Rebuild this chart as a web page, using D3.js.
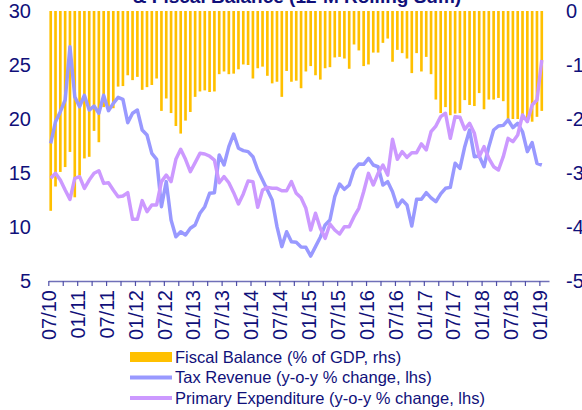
<!DOCTYPE html>
<html lang="en">
  <head>
    <meta charset="UTF-8">
    <title>Tax Revenue, Primary Expenditure & Fiscal Balance</title>
    <script src="https://d3js.org/d3.v7.min.js"></script>
    <style>
      * {
        margin: 0;
        padding: 0;
      }
      body {
        background: #fff;
      }
      body > svg {
        display: block;
        font-family: Arial, "Liberation Sans", sans-serif;
      }
    </style>
  </head>
  <body>
    <script>
      // monthly, 07/2010 .. 01/2019
      var months = d3.timeMonth.range(new Date(2010, 6, 1), new Date(2019, 1, 2));

      var tickLabels = ["07/10", "01/11", "07/11", "01/12", "07/12", "01/13", "07/13", "01/14", "07/14",
        "01/15", "07/15", "01/16", "07/16", "01/17", "07/17", "01/18", "07/18", "01/19"];

      var leftTicks = [5, 10, 15, 20, 25, 30];
      var rightTicks = [-5, -4, -3, -2, -1, 0];

      // fiscal balance, % of GDP (rhs)
      var fiscalBalance = [
        -3.70, -3.25, -2.98, -2.89, -2.61, -3.45, -3.05, -2.73, -2.70, -2.22,
        -2.43, -1.78, -1.83, -1.80, -1.40, -1.39, -1.19, -1.28, -1.22, -1.46,
        -1.41, -1.37, -1.25, -1.85, -1.62, -1.89, -2.13, -2.27, -2.03, -1.87,
        -1.59, -1.49, -1.47, -1.50, -1.49, -1.17, -1.12, -1.17, -1.16, -1.08,
        -0.99, -1.00, -1.25, -1.06, -1.03, -1.20, -1.34, -1.31, -1.59, -1.11,
        -1.31, -1.29, -1.43, -1.12, -1.02, -1.19, -1.27, -1.06, -1.04, -0.86,
        -0.85, -0.88, -1.07, -0.62, -0.73, -1.02, -0.99, -0.77, -0.77, -0.59,
        -0.51, -0.94, -0.72, -0.78, -0.88, -1.15, -0.78, -1.12, -0.85, -1.17,
        -1.64, -1.89, -1.78, -1.93, -1.90, -1.89, -1.65, -1.74, -1.76, -1.52,
        -1.82, -1.64, -1.64, -1.61, -1.67, -2.01, -2.00, -2.00, -2.02, -2.05,
        -2.05, -1.96, -1.85
      ];

      // tax revenue, y-o-y % (lhs)
      var taxRevenue = [
        17.75, 19.75, 20.68, 21.76, 26.7, 22.07, 21.14, 22.2, 20.83, 21.2,
        20.53, 22.2, 20.77, 21.45, 22.0, 21.82, 19.66, 20.53, 20.83, 18.98,
        18.52, 16.82, 16.27, 11.88, 14.2, 10.65, 9.1, 9.56, 9.26, 9.88,
        10.19, 11.27, 11.88, 13.12, 13.18, 16.67, 15.74, 17.44, 18.61, 17.29,
        17.07, 16.98, 16.51, 15.28, 14.35, 13.43, 12.5, 10.03, 8.18, 9.56,
        8.64, 8.58, 8.15, 8.12, 7.31, 8.18, 9.05, 10.19, 10.65, 12.81,
        13.98, 13.49, 13.89, 15.28, 15.83, 15.8, 16.36, 15.74, 15.58, 13.89,
        14.2, 13.27, 11.88, 12.5, 12.04, 10.09, 12.56, 12.56, 13.18, 12.7,
        12.34, 13.06, 13.58, 13.67, 15.9, 15.43, 17.44, 18.98, 16.51, 16.57,
        15.58, 17.44, 18.98, 19.35, 19.41, 19.91, 19.2, 19.6, 18.82, 16.98,
        17.81, 15.9, 15.74
      ];

      // primary expenditure, y-o-y % (lhs)
      var primaryExpenditure = [
        14.51, 14.97, 14.35, 13.43, 12.56, 14.51, 14.66, 13.58, 14.35, 14.97,
        15.21, 14.04, 14.1, 13.43, 12.81, 12.87, 13.18, 10.71, 10.71, 12.44,
        11.42, 12.04, 12.04, 14.2, 14.81, 14.2, 16.27, 17.19, 16.27, 15.12,
        15.96, 16.82, 16.76, 16.57, 16.2, 14.1, 14.66, 14.1, 13.18, 12.13,
        13.06, 14.26, 14.2, 11.82, 13.43, 13.67, 13.58, 13.58, 13.36, 13.36,
        14.2, 13.12, 12.7, 11.73, 9.72, 11.27, 9.88, 8.95, 10.28, 9.72,
        9.35, 10.03, 10.03, 10.96, 11.73, 13.27, 14.97, 13.89, 14.97, 15.74,
        14.81, 18.12, 16.27, 16.98, 16.45, 16.88, 16.88, 17.69, 17.13, 18.82,
        19.35, 20.22, 20.53, 18.21, 20.22, 20.16, 19.04, 19.6, 18.67, 16.51,
        17.44, 16.36, 15.58, 15.28, 16.51, 18.21, 17.9, 18.52, 20.37, 19.75,
        21.3, 21.76, 25.46
      ];

      var width = 582;
      var height = 410;
      var textColor = "#10107a";

      var svg = d3.select("body").append("svg")
        .attr("width", width)
        .attr("height", height);

      var x = d3.scaleBand()
        .domain(d3.range(months.length))
        .range([48.3, 549])
        .paddingInner(0.45)
        .paddingOuter(0.225);

      // month index -> left edge of its cell, for the ticks
      var xTick = d3.scaleLinear()
        .domain([0, months.length])
        .range([48.3, 549]);

      var yL = d3.scaleLinear().domain([5, 30]).range([281, 11]);
      var yR = d3.scaleLinear().domain([-5, 0]).range([281, 11]);

      // title (only the bottom of its second line is in view)
      svg.append("text")
        .attr("x", 297)
        .attr("y", 3)
        .attr("text-anchor", "middle")
        .attr("font-size", "19px")
        .attr("font-weight", "bold")
        .attr("fill", textColor)
        .text("& Fiscal Balance (12-M Rolling Sum)");

      svg.append("g")
        .selectAll("rect")
        .data(fiscalBalance)
        .enter().append("rect")
        .attr("x", function (d, i) { return x(i); })
        .attr("width", x.bandwidth())
        .attr("y", yR(0))
        .attr("height", function (d) { return yR(d) - yR(0); })
        .attr("fill", "#ffc000");

      var line = function (scale) {
        return d3.line()
          .x(function (d, i) { return x(i) + x.bandwidth() / 2; })
          .y(function (d) { return scale(d); });
      };

      svg.append("path")
        .datum(taxRevenue)
        .attr("fill", "none")
        .attr("stroke", "#9999ff")
        .attr("stroke-width", 3.5)
        .attr("stroke-linejoin", "round")
        .attr("d", line(yL));

      svg.append("path")
        .datum(primaryExpenditure)
        .attr("fill", "none")
        .attr("stroke", "#cc99ff")
        .attr("stroke-width", 3.5)
        .attr("stroke-linejoin", "round")
        .attr("d", line(yL));

      // x axis
      var xAxis = svg.append("g")
        .attr("transform", "translate(0,281)")
        .call(d3.axisBottom(xTick)
          .tickValues(d3.range(0, months.length, 3))
          .tickSizeInner(5)
          .tickSizeOuter(0)
          .tickFormat(function (i) { return i % 6 === 0 ? tickLabels[i / 6] : ""; }));

      xAxis.select(".domain").attr("stroke", "#7070b8").attr("stroke-width", 1.5);
      xAxis.selectAll(".tick line").attr("stroke", "#5050a8").attr("stroke-width", 1.2);
      xAxis.selectAll(".tick text")
        .attr("transform", "rotate(-90)")
        .attr("x", -9)
        .attr("y", 0)
        .attr("dy", "0.36em")
        .attr("text-anchor", "end")
        .attr("font-size", "20px")
        .attr("font-family", null)
        .attr("fill", textColor);

      var plainNumber = function (d) { return String(d); };

      var yAxisL = svg.append("g")
        .attr("transform", "translate(34,0)")
        .call(d3.axisLeft(yL).tickValues(leftTicks).tickSize(0).tickFormat(plainNumber));
      var yAxisR = svg.append("g")
        .attr("transform", "translate(563,0)")
        .call(d3.axisRight(yR).tickValues(rightTicks).tickSize(0).tickFormat(plainNumber));

      [yAxisL, yAxisR].forEach(function (g) {
        g.select(".domain").remove();
        g.selectAll("text")
          .attr("font-size", "20px")
          .attr("font-family", null)
          .attr("fill", textColor);
      });

      // legend
      var legend = svg.append("g").attr("transform", "translate(130,357)");

      legend.append("rect")
        .attr("x", 0).attr("y", -5)
        .attr("width", 42).attr("height", 10)
        .attr("fill", "#ffc000");
      legend.append("line")
        .attr("x1", 0).attr("x2", 42)
        .attr("y1", 20.5).attr("y2", 20.5)
        .attr("stroke", "#9999ff").attr("stroke-width", 4);
      legend.append("line")
        .attr("x1", 0).attr("x2", 42)
        .attr("y1", 41).attr("y2", 41)
        .attr("stroke", "#cc99ff").attr("stroke-width", 4);

      legend.selectAll("text")
        .data(["Fiscal Balance (% of GDP, rhs)", "Tax Revenue (y-o-y % change, lhs)",
          "Primary Expenditure (y-o-y % change, lhs)"])
        .enter().append("text")
        .attr("x", 45)
        .attr("y", function (d, i) { return i * 20.5; })
        .attr("dy", "0.35em")
        .attr("font-size", "16.5px")
        .attr("fill", textColor)
        .text(function (d) { return d; });
    </script>
  </body>
</html>
